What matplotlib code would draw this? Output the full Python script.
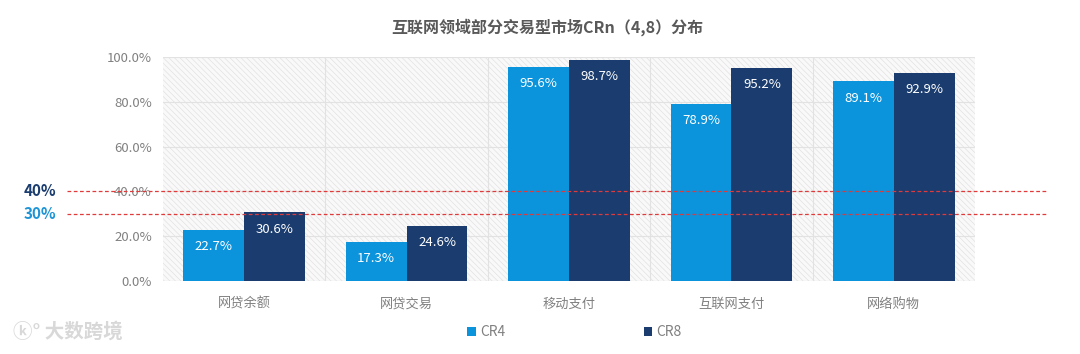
import matplotlib
matplotlib.use("Agg")
import matplotlib.pyplot as plt
from matplotlib.patches import Rectangle
import numpy as np

plt.rcParams["font.family"] = ["Noto Sans CJK SC", "DejaVu Sans"]
plt.rcParams["hatch.linewidth"] = 0.5

# data
categories = ["网贷余额", "网贷交易", "移动支付", "互联网支付", "网络购物"]
cr4 = [22.7, 17.3, 95.6, 78.9, 89.1]
cr8 = [30.6, 24.6, 98.7, 95.2, 92.9]
ref_lines = [40, 30]
ref_labels = ["40%", "30%"]

C4 = "#0b93dc"
C8 = "#1a3c6e"
GRAY = "#808080"

fig = plt.figure(figsize=(10.8, 3.54), dpi=100)
ax = fig.add_axes([0.1509, 0.2062, 0.7519, 0.6328])

x = np.arange(len(categories))
w = 0.375

# hatched background
bg = Rectangle((0, 0), 1, 1, transform=ax.transAxes, facecolor="#f9f9f9",
               edgecolor="#e2e2e2", hatch="\\\\\\\\\\\\", linewidth=0, zorder=0)
ax.add_patch(bg)

b4 = ax.bar(x - w / 2, cr4, w, color=C4, label="CR4", zorder=3)
b8 = ax.bar(x + w / 2, cr8, w, color=C8, label="CR8", zorder=3)

for bars, vals in [(b4, cr4), (b8, cr8)]:
    for bar, v in zip(bars, vals):
        ax.annotate(format(v, ".1f") + "%", (bar.get_x() + bar.get_width() / 2, v),
                    xytext=(0, -12), textcoords="offset points", ha="center", va="center",
                    color="white", fontsize=9.5, zorder=5)

ax.set_xlim(-0.5, len(categories) - 0.5)
ax.set_ylim(0, 100)
ax.set_yticks(np.arange(0, 101, 20))
ax.set_yticklabels([format(v, ".1f") + "%" for v in np.arange(0, 101, 20)])
ax.set_xticks(x)
ax.set_xticklabels(categories)
ax.tick_params(length=0, colors=GRAY, labelsize=9.5)
ax.tick_params(axis="y", pad=8)
ax.tick_params(axis="x", pad=12)

for v in np.arange(20, 101, 20):
    ax.axhline(v, color="#e2e2e2", linewidth=0.8, zorder=1)
for b in np.arange(0.5, len(categories) - 0.5, 1):
    ax.axvline(b, color="#e2e2e2", linewidth=0.8, zorder=1)
for s in ax.spines.values():
    s.set_visible(False)
ax.axhline(0, color="#d0d0d0", linewidth=0.8, zorder=2)

# reference lines reaching past the plot
for v, lab, col in zip(ref_lines, ref_labels, [C8, "#1f95d6"]):
    ax.axhline(v, xmin=-0.118, xmax=1.089, color="#e03a3a", linestyle=(0, (3, 2)),
               linewidth=0.9, clip_on=False, zorder=4)
    ax.text(-0.132, v, lab, transform=ax.get_yaxis_transform(), ha="right", va="center",
            color=col, fontsize=11, fontweight="bold")

fig.text(0.507, 0.922, "互联网领域部分交易型市场CRn（4,8）分布", ha="center", va="center",
         fontsize=11.5, fontweight="bold", color="#595959")

fig.legend(handles=[b4, b8], loc="center", bbox_to_anchor=(0.532, 0.062), ncol=2,
           frameon=False, fontsize=10, handlelength=0.6, handleheight=0.6,
           handletextpad=0.3, columnspacing=10, labelcolor=GRAY)

fig.text(0.012, 0.062, "ⓚ° 大数跨境", ha="left", va="center", fontsize=14,
         color="#d8d8d8", fontweight="bold")

fig.savefig("out.png", dpi=100)
